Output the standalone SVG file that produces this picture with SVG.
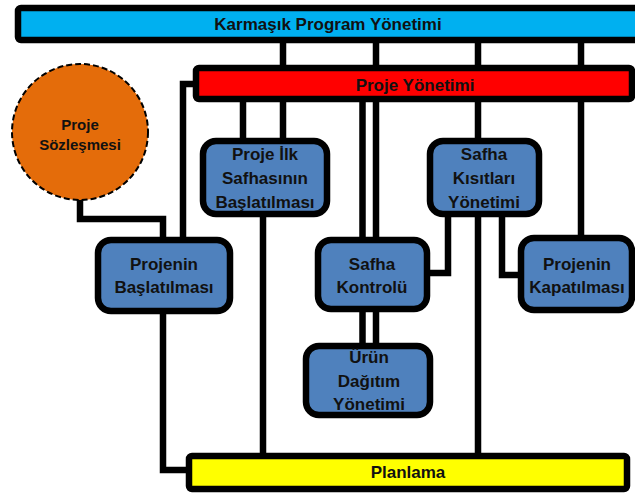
<svg xmlns="http://www.w3.org/2000/svg" width="635" height="493" viewBox="0 0 635 493">
  <style>
    .wire { fill: none; stroke: #000; stroke-width: 6.5; stroke-linejoin: miter; }
    .bar { stroke: #000; stroke-width: 6.5; }
    .box { fill: #4F81BD; stroke: #000; stroke-width: 6.5; }
    .lbl { font-family: "Liberation Sans", Arial, sans-serif; font-weight: bold; font-size: 17px; fill: #111; text-anchor: middle; }
    .small { font-size: 15px; }
  </style>

  <!-- connectors -->
  <g id="connectors">
    <!-- Karmaşık Program Yönetimi to Proje Yönetimi -->
    <path class="wire" d="M283,40 V68 M376,40 V68 M478,40 V68 M581,40 V68"/>
    <!-- Proje Yönetimi to Proje İlk Safhasının Başlatılması -->
    <path class="wire" d="M243,99 V141 M283,99 V141"/>
    <!-- Proje Yönetimi to Projenin Başlatılması -->
    <path class="wire" d="M196,84 H183 V240"/>
    <!-- Proje Sözleşmesi to Projenin Başlatılması -->
    <path class="wire" d="M80,198 V219 H163 V240"/>
    <!-- Proje İlk Safhasının Başlatılması to Planlama -->
    <path class="wire" d="M263,214 V456"/>
    <!-- Proje Yönetimi to Safha Kontrolü, then to Ürün Dağıtım Yönetimi -->
    <path class="wire" d="M362.5,99 V346 M376,99 V346"/>
    <!-- Proje Yönetimi through Safha Kısıtları Yönetimi to Planlama -->
    <path class="wire" d="M478,99 V456"/>
    <!-- Safha Kısıtları Yönetimi to Safha Kontrolü -->
    <path class="wire" d="M448,214 V273 H427"/>
    <!-- Safha Kısıtları Yönetimi to Projenin Kapatılması -->
    <path class="wire" d="M502,214 V275 H521"/>
    <!-- Proje Yönetimi to Projenin Kapatılması -->
    <path class="wire" d="M581,99 V238"/>
    <!-- Projenin Başlatılması to Planlama -->
    <path class="wire" d="M163,311 V470 H189"/>
  </g>

  <g id="karmasik-program-yonetimi">
    <rect class="bar" x="18" y="8" width="640" height="32" rx="3" fill="#00B0F0"/>
    <text class="lbl" x="328" y="30">Karmaşık Program Yönetimi</text>
  </g>

  <g id="proje-yonetimi">
    <rect class="bar" x="196" y="68" width="436" height="31" rx="3" fill="#FF0000"/>
    <text class="lbl" x="415" y="91">Proje Yönetimi</text>
  </g>

  <g id="planlama">
    <rect class="bar" x="189" y="456" width="438" height="33" rx="3" fill="#FFFF00"/>
    <text class="lbl" x="408" y="478">Planlama</text>
  </g>

  <g id="proje-sozlesmesi">
    <circle cx="80" cy="132" r="68" fill="#E46C0A" stroke="#000" stroke-width="2" stroke-dasharray="6 3"/>
    <text class="lbl small" x="80" y="130">Proje</text>
    <text class="lbl small" x="80" y="150">Sözleşmesi</text>
  </g>

  <g id="proje-ilk-safhasinin-baslatilmasi">
    <rect class="box" x="203" y="141" width="124" height="73" rx="13"/>
    <text class="lbl" x="265" y="160">Proje İlk</text>
    <text class="lbl" x="265" y="184">Safhasının</text>
    <text class="lbl" x="265" y="208">Başlatılması</text>
  </g>

  <g id="safha-kisitlari-yonetimi">
    <rect class="box" x="430" y="141" width="109" height="73" rx="13"/>
    <text class="lbl" x="484" y="160">Safha</text>
    <text class="lbl" x="484" y="184">Kısıtları</text>
    <text class="lbl" x="484" y="208">Yönetimi</text>
  </g>

  <g id="projenin-baslatilmasi">
    <rect class="box" x="98" y="240" width="132" height="71" rx="13"/>
    <text class="lbl" x="164" y="270">Projenin</text>
    <text class="lbl" x="164" y="293">Başlatılması</text>
  </g>

  <g id="safha-kontrolu">
    <rect class="box" x="318" y="240" width="109" height="69" rx="13"/>
    <text class="lbl" x="372" y="270">Safha</text>
    <text class="lbl" x="372" y="293">Kontrolü</text>
  </g>

  <g id="urun-dagitim-yonetimi">
    <rect class="box" x="306" y="346" width="124" height="69" rx="13"/>
    <text class="lbl" x="369" y="363">Ürün</text>
    <text class="lbl" x="369" y="387">Dağıtım</text>
    <text class="lbl" x="369" y="410">Yönetimi</text>
  </g>

  <g id="projenin-kapatilmasi">
    <rect class="box" x="521" y="238" width="111" height="72" rx="13"/>
    <text class="lbl" x="577" y="270">Projenin</text>
    <text class="lbl" x="577" y="293">Kapatılması</text>
  </g>
</svg>
